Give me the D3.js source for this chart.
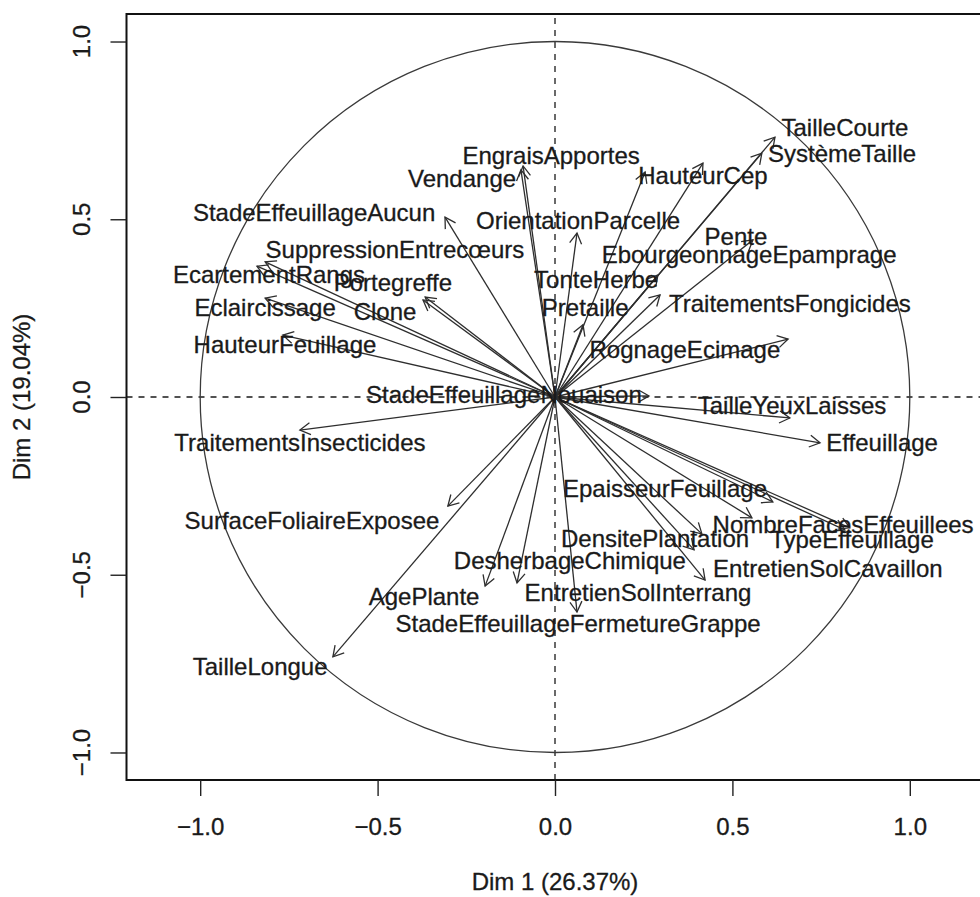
<!DOCTYPE html>
<html>
<head>
<meta charset="utf-8">
<script src="https://cdn.jsdelivr.net/npm/d3@7"></script>
<style>
  html, body { margin: 0; padding: 0; background: #fff; }
  svg { display: block; }
  text { font-family: "Liberation Sans", Arial, Helvetica, sans-serif; fill: #1a1a1a; stroke: #1a1a1a; stroke-width: 0.3px; }
</style>
</head>
<body>
<svg id="chart" width="980" height="897"></svg>
<script>
// ---- Data (PCA variable coordinates on Dim 1 / Dim 2) ----
const variables = [
  "TailleCourte", "SystèmeTaille", "HauteurCep", "EbourgeonnageEpamprage", "Pente",
  "TonteHerbe", "TraitementsFongicides", "Pretaille", "OrientationParcelle", "EngraisApportes",
  "Vendange", "StadeEffeuillageAucun", "SuppressionEntrecœurs", "EcartementRangs", "Eclaircissage",
  "HauteurFeuillage", "Clone", "Portegreffe", "RognageEcimage", "StadeEffeuillageNouaison",
  "TailleYeuxLaisses", "Effeuillage", "TraitementsInsecticides", "EpaisseurFeuillage", "NombreFacesEffeuillees",
  "TypeEffeuillage", "DensitePlantation", "", "EntretienSolInterrang", "EntretienSolCavaillon",
  "SurfaceFoliaireExposee", "AgePlante", "DesherbageChimique", "StadeEffeuillageFermetureGrappe", "TailleLongue"
];
const dim1 = [
  0.620, 0.583, 0.417, 0.254, 0.558,
  0.290, 0.296, 0.079, 0.062, -0.090,
  -0.096, -0.310, -0.817, -0.840, -0.817,
  -0.767, -0.372, -0.366, 0.657, 0.265,
  0.662, 0.747, -0.719, 0.614, 0.831,
  0.817, 0.555, 0.414, 0.392, 0.423,
  -0.302, -0.197, -0.107, 0.062, -0.626
];
const dim2 = [
  0.731, 0.686, 0.658, 0.633, 0.442,
  0.343, 0.287, 0.203, 0.461, 0.650,
  0.639, 0.506, 0.380, 0.368, 0.278,
  0.174, 0.273, 0.281, 0.163, 0.003,
  -0.059, -0.129, -0.093, -0.295, -0.368,
  -0.374, -0.340, -0.385, -0.430, -0.515,
  -0.307, -0.532, -0.523, -0.605, -0.731
];
// label anchor (centre of text) in the same coordinate system
const labelX = [
  0.817, 0.809, 0.417, 0.547, 0.510,
  0.116, 0.662, 0.085, 0.065, -0.011,
  -0.262, -0.679, -0.451, -0.806, -0.817,
  -0.761, -0.479, -0.457, 0.366, -0.144,
  0.668, 0.922, -0.719, 0.310, 0.812,
  0.837, 0.282, 0, 0.234, 0.769,
  -0.685, -0.369, 0.042, 0.065, -0.831
];
const labelY = [
  0.759, 0.684, 0.624, 0.402, 0.453,
  0.332, 0.262, 0.253, 0.498, 0.681,
  0.616, 0.518, 0.414, 0.346, 0.253,
  0.149, 0.242, 0.321, 0.135, 0.006,
  -0.023, -0.129, -0.129, -0.256, -0.357,
  -0.402, -0.399, 0, -0.551, -0.481,
  -0.346, -0.560, -0.461, -0.636, -0.757
];
const tickValues = [-1.0, -0.5, 0.0, 0.5, 1.0];
const xTitle = "Dim 1 (26.37%)";
const yTitle = "Dim 2 (19.04%)";

// ---- Layout ----
const svg = d3.select("#chart");
const FONT = 24;
const x = d3.scaleLinear().domain([-1.2077, 1.2077]).range([126.5, 983.5]);
const y = d3.scaleLinear().domain([-1.0774, 1.0774]).range([780, 14]);
const ink = "#1a1a1a";
const lineCol = "#2e2e2e";

// dashed reference lines
svg.append("line")
  .attr("x1", x.range()[0]).attr("x2", x.range()[1])
  .attr("y1", y(0)).attr("y2", y(0))
  .attr("stroke", ink).attr("stroke-width", 1.3).attr("stroke-dasharray", "6,6");
svg.append("line")
  .attr("x1", x(0)).attr("x2", x(0))
  .attr("y1", y.range()[0]).attr("y2", y.range()[1])
  .attr("stroke", ink).attr("stroke-width", 1.3).attr("stroke-dasharray", "6,6");

// unit circle
svg.append("ellipse")
  .attr("cx", x(0)).attr("cy", y(0))
  .attr("rx", x(1) - x(0)).attr("ry", y(0) - y(1))
  .attr("fill", "none").attr("stroke", "#3a3a3a").attr("stroke-width", 1.3);

// arrows
const data = variables.map((name, i) => ({name, d1: dim1[i], d2: dim2[i], lx: labelX[i], ly: labelY[i]}));
const gArrows = svg.append("g");
const headLen = 12, headAng = Math.PI / 6;
data.forEach(d => {
  const x0 = x(0), y0 = y(0), x1 = x(d.d1), y1 = y(d.d2);
  gArrows.append("line")
    .attr("x1", x0).attr("y1", y0).attr("x2", x1).attr("y2", y1)
    .attr("stroke", lineCol).attr("stroke-width", 1.3);
  const ang = Math.atan2(y1 - y0, x1 - x0);
  const p = d3.path();
  p.moveTo(x1 - headLen * Math.cos(ang - headAng), y1 - headLen * Math.sin(ang - headAng));
  p.lineTo(x1, y1);
  p.lineTo(x1 - headLen * Math.cos(ang + headAng), y1 - headLen * Math.sin(ang + headAng));
  gArrows.append("path").attr("d", p.toString())
    .attr("fill", "none").attr("stroke", lineCol).attr("stroke-width", 1.3);
});

// labels
svg.append("g").selectAll("text")
  .data(data.filter(d => d.name !== ""))
  .join("text")
  .attr("x", d => x(d.lx)).attr("y", d => y(d.ly))
  .attr("dy", "0.358em")
  .attr("text-anchor", "middle")
  .style("font-size", FONT + "px")
  .text(d => d.name);

// box
svg.append("rect")
  .attr("x", x.range()[0]).attr("y", y.range()[1])
  .attr("width", x.range()[1] - x.range()[0]).attr("height", y.range()[0] - y.range()[1])
  .attr("fill", "none").attr("stroke", "#111").attr("stroke-width", 2);

// x axis
const fmt = d3.format(".1f");
const gx = svg.append("g").attr("transform", `translate(0,${y.range()[0]})`)
  .call(d3.axisBottom(x).tickValues(tickValues).tickSize(16).tickFormat(fmt));
gx.select(".domain").remove();
gx.selectAll(".tick line").attr("stroke", "#222").attr("stroke-width", 1.4);
gx.selectAll(".tick text").attr("y", 55).attr("dy", 0)
  .style("font-size", FONT + "px").style("font-family", "Liberation Sans, Arial, sans-serif")
  .attr("fill", ink).attr("stroke", ink).attr("stroke-width", 0.3);

// y axis
const gy = svg.append("g").attr("transform", `translate(${x.range()[0]},0)`)
  .call(d3.axisLeft(y).tickValues(tickValues).tickSize(16).tickFormat(""));
gy.select(".domain").remove();
gy.selectAll(".tick line").attr("stroke", "#222").attr("stroke-width", 1.4);
svg.append("g").selectAll("text").data(tickValues).join("text")
  .attr("x", 90).attr("y", d => y(d))
  .attr("transform", d => `rotate(-90, 90, ${y(d)})`)
  .attr("text-anchor", "middle")
  .style("font-size", FONT + "px")
  .text(d => fmt(d));

// axis titles
svg.append("text")
  .attr("x", x(0)).attr("y", 890)
  .attr("text-anchor", "middle")
  .style("font-size", FONT + "px")
  .text(xTitle);
svg.append("text")
  .attr("x", 30).attr("y", y(0))
  .attr("transform", `rotate(-90, 30, ${y(0)})`)
  .attr("text-anchor", "middle")
  .style("font-size", FONT + "px")
  .text(yTitle);
</script>
</body>
</html>
